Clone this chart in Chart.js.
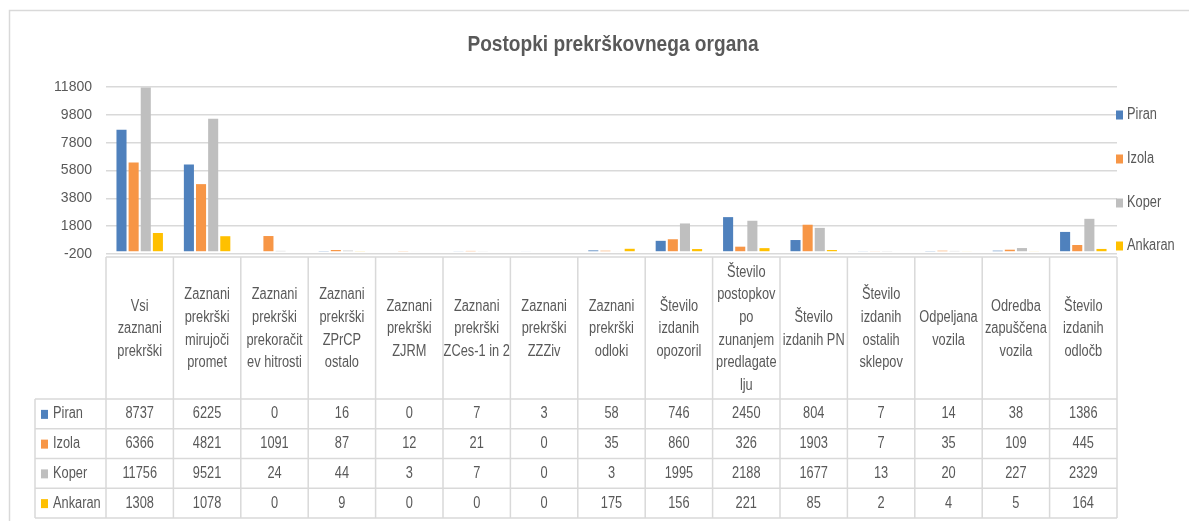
<!DOCTYPE html>
<html>
<head>
<meta charset="utf-8">
<script src="https://cdn.jsdelivr.net/npm/chart.js@4"></script>
<style>
  body { margin: 0; background: #fff; }
  canvas { display: block; }
</style>
</head>
<body>
<canvas id="mycanvas" width="1189" height="521"></canvas>
<script>
// categories (already wrapped the way the table header shows them)
var categories = [
  ["Vsi", "zaznani", "prekrški"],
  ["Zaznani", "prekrški", "mirujoči", "promet"],
  ["Zaznani", "prekrški", "prekoračit", "ev hitrosti"],
  ["Zaznani", "prekrški", "ZPrCP", "ostalo"],
  ["Zaznani", "prekrški", "ZJRM"],
  ["Zaznani", "prekrški", "ZCes-1 in 2"],
  ["Zaznani", "prekrški", "ZZZiv"],
  ["Zaznani", "prekrški", "odloki"],
  ["Število", "izdanih", "opozoril"],
  ["Število", "postopkov", "po", "zunanjem", "predlagate", "lju"],
  ["Število", "izdanih PN"],
  ["Število", "izdanih", "ostalih", "sklepov"],
  ["Odpeljana", "vozila"],
  ["Odredba", "zapuščena", "vozila"],
  ["Število", "izdanih", "odločb"]
];
var piran   = [8737, 6225, 0, 16, 0, 7, 3, 58, 746, 2450, 804, 7, 14, 38, 1386];
var izola   = [6366, 4821, 1091, 87, 12, 21, 0, 35, 860, 326, 1903, 7, 35, 109, 445];
var koper   = [11756, 9521, 24, 44, 3, 7, 0, 3, 1995, 2188, 1677, 13, 20, 227, 2329];
var ankaran = [1308, 1078, 0, 9, 0, 0, 0, 175, 156, 221, 85, 2, 4, 5, 164];
var seriesNames = ["Piran", "Izola", "Koper", "Ankaran"];
var yTicks = [-200, 1800, 3800, 5800, 7800, 9800, 11800];
var title = "Postopki prekrškovnega organa";

var colors = ["#4f81bd", "#f79646", "#bfbfbf", "#ffc000"];
var textColor = "#595959";
var lineColor = "#d9d9d9";
var fontFam = "'Liberation Sans', Arial, sans-serif";

function txt(ctx, s, x, y, align, font, sx) {
  ctx.save();
  ctx.translate(x, y);
  ctx.scale(sx, 1);
  ctx.font = font;
  ctx.fillStyle = textColor;
  ctx.textAlign = align;
  ctx.textBaseline = "middle";
  ctx.fillText(s, 0, 0);
  ctx.restore();
}

// title, legend on the right and the data table under the plot
var extras = {
  id: "extras",
  afterDraw: function(chart) {
    var ctx = chart.ctx;
    var area = chart.chartArea;
    var xs = chart.scales.x;
    var n = categories.length;
    var cw = (area.right - area.left) / n;
    var sets = [piran, izola, koper, ankaran];

    // outer frame
    ctx.save();
    ctx.strokeStyle = lineColor;
    ctx.lineWidth = 1.5;
    ctx.beginPath();
    ctx.moveTo(9.5, 521);
    ctx.lineTo(9.5, 10.5);
    ctx.lineTo(1189, 10.5);
    ctx.stroke();
    ctx.restore();

    txt(ctx, title, 613, 45, "center", "bold 22.5px " + fontFam, 0.85);

    // legend
    var ly = [115, 159, 203, 246];
    for (var i = 0; i < seriesNames.length; i++) {
      ctx.fillStyle = colors[i];
      ctx.fillRect(1116, ly[i] - 4.5, 7, 9);
      txt(ctx, seriesNames[i], 1127, ly[i], "left", "16px " + fontFam, 0.8);
    }

    // table
    var top = 257, headBottom = 399, rowH = 29.75;
    var bottom = headBottom + rowH * 4;
    var left0 = 35;
    ctx.save();
    ctx.strokeStyle = lineColor;
    ctx.lineWidth = 1.5;
    ctx.beginPath();
    ctx.moveTo(area.left, top);
    ctx.lineTo(area.right, top);
    for (var r = 0; r <= 4; r++) {
      ctx.moveTo(left0, headBottom + r * rowH);
      ctx.lineTo(area.right, headBottom + r * rowH);
    }
    ctx.moveTo(left0, headBottom);
    ctx.lineTo(left0, bottom);
    for (var c = 0; c <= n; c++) {
      var xx = area.left + c * cw;
      ctx.moveTo(xx, top);
      ctx.lineTo(xx, bottom);
    }
    ctx.stroke();
    ctx.restore();

    for (var k = 0; k < n; k++) {
      var cx = xs.getPixelForValue(k);
      var lines = categories[k];
      var lh = 22.7;
      var y0 = 329 - (lines.length - 1) * lh / 2;
      for (var j = 0; j < lines.length; j++) {
        txt(ctx, lines[j], cx, y0 + j * lh, "center", "16px " + fontFam, 0.8);
      }
      for (var s = 0; s < sets.length; s++) {
        txt(ctx, String(sets[s][k]), cx, headBottom + rowH * (s + 0.5), "center", "16px " + fontFam, 0.8);
      }
    }
    for (var s2 = 0; s2 < seriesNames.length; s2++) {
      var ry = headBottom + rowH * (s2 + 0.5);
      ctx.fillStyle = colors[s2];
      ctx.fillRect(41, ry - 4, 7, 9);
      txt(ctx, seriesNames[s2], 53, ry, "left", "16px " + fontFam, 0.8);
    }
  }
};

var chartdata = {
  labels: categories,
  datasets: [piran, izola, koper, ankaran].map(function(d, i) {
    return {
      label: seriesNames[i],
      data: d,
      backgroundColor: colors[i],
      borderWidth: 0,
      categoryPercentage: 0.72,
      barPercentage: 0.83
    };
  })
};

var ctx = document.getElementById("mycanvas");
var barGraph = new Chart(ctx, {
  type: "bar",
  data: chartdata,
  plugins: [extras],
  options: {
    responsive: false,
    animation: false,
    layout: { padding: { left: 10, top: 87, right: 72, bottom: 267 } },
    plugins: {
      legend: { display: false },
      title: { display: false },
      tooltip: { enabled: false }
    },
    scales: {
      x: { display: false },
      y: {
        min: -200,
        max: 11800,
        afterBuildTicks: function(s) {
          s.ticks = yTicks.map(function(v) { return { value: v }; });
        },
        afterFit: function(s) { s.width = 96; },
        border: { display: false },
        grid: { color: lineColor, lineWidth: 1.5, drawTicks: false },
        ticks: {
          color: textColor,
          padding: 14,
          font: { family: fontFam, size: 14 },
          callback: function(v) { return String(v); }
        }
      }
    }
  }
});
</script>
</body>
</html>
